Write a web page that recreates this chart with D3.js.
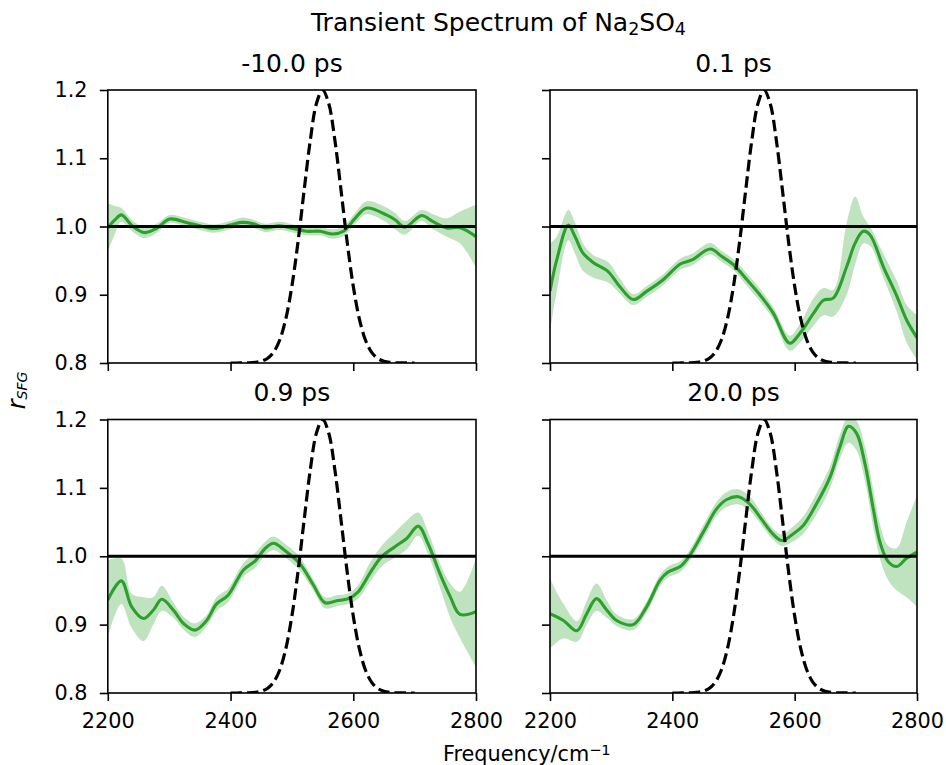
<!DOCTYPE html>
<html><head><meta charset="utf-8">
<script src="https://cdn.jsdelivr.net/npm/d3@7"></script>
<style>body{margin:0;background:#fff}</style>
</head><body><svg id="c" width="946" height="765" xmlns="http://www.w3.org/2000/svg"></svg>
<script>
// ---------- data ----------
const xTicks=[2200,2400,2600,2800];
const yTicks=[0.8,0.9,1.0,1.1,1.2];
const panelTitles=["-10.0 ps","0.1 ps","0.9 ps","20.0 ps"];
const refLevel=1.0;

// pump profile (dashed)
const pumpFreq=[2400,2410,2420,2430,2440,2450,2460,2470,2480,2490,2500,2510,2520,2530,2540,2550,2560,2570,2580,2590,2600,2610,2620,2630,2640,2650,2660,2670,2680,2690,2700];
const pumpVal=[0.8000,0.8000,0.8002,0.8003,0.8009,0.8025,0.8066,0.8156,0.8333,0.8644,0.9126,0.9777,1.0534,1.1266,1.1802,1.2000,1.1802,1.1266,1.0534,0.9777,0.9126,0.8644,0.8333,0.8156,0.8066,0.8025,0.8009,0.8003,0.8002,0.8000,0.8000];

// -10.0 ps
const freqA=[2200,2212,2222,2241,2260,2279,2301,2328,2350,2374,2399,2418,2437,2456,2480,2502,2524,2546,2567,2584,2603,2622,2654,2668,2684,2711,2730,2752,2774,2800];
const meanA=[0.998,1.010,1.017,1.000,0.991,0.997,1.011,1.006,1.001,0.997,1.002,1.006,1.004,0.998,1.001,0.997,0.993,0.993,0.989,0.993,1.012,1.027,1.017,1.010,0.999,1.016,1.007,0.998,0.998,0.985];
const loA=[0.962,0.990,1.007,0.992,0.983,0.990,1.005,1.000,0.995,0.991,0.996,1.000,0.998,0.992,0.995,0.991,0.987,0.987,0.982,0.986,1.004,1.018,1.006,0.996,0.988,1.008,0.996,0.985,0.975,0.940];
const hiA=[1.034,1.030,1.027,1.008,0.999,1.004,1.017,1.012,1.007,1.003,1.008,1.013,1.010,1.004,1.007,1.003,0.999,0.999,0.996,1.000,1.020,1.037,1.028,1.020,1.008,1.024,1.018,1.012,1.022,1.032];

// 0.1 ps
const freqB=[2200,2211,2230,2241,2254,2271,2295,2314,2336,2358,2385,2413,2432,2462,2481,2500,2522,2543,2565,2592,2609,2631,2647,2663,2685,2699,2712,2723,2745,2767,2783,2800];
const meanB=[0.905,0.951,1.002,0.985,0.961,0.947,0.934,0.912,0.893,0.905,0.922,0.945,0.951,0.967,0.956,0.944,0.922,0.900,0.873,0.829,0.844,0.873,0.892,0.895,0.941,0.976,0.993,0.988,0.941,0.898,0.863,0.837];
const loB=[0.845,0.905,0.980,0.960,0.935,0.925,0.918,0.902,0.885,0.897,0.914,0.937,0.943,0.959,0.948,0.936,0.913,0.891,0.864,0.818,0.830,0.855,0.870,0.868,0.900,0.945,0.975,0.972,0.925,0.875,0.830,0.805];
const hiB=[0.975,0.985,1.024,1.005,0.975,0.958,0.948,0.924,0.901,0.913,0.930,0.953,0.960,0.976,0.964,0.952,0.931,0.909,0.882,0.840,0.858,0.895,0.910,0.907,1.005,1.044,1.015,1.000,0.960,0.920,0.885,0.870];

// 0.9 ps
const freqC=[2200,2222,2239,2258,2274,2288,2307,2323,2342,2361,2377,2396,2421,2440,2456,2470,2489,2513,2535,2554,2573,2592,2608,2627,2646,2668,2687,2706,2722,2741,2758,2774,2800];
const meanC=[0.936,0.964,0.926,0.909,0.921,0.937,0.921,0.902,0.892,0.906,0.930,0.943,0.980,0.993,1.011,1.019,1.008,0.989,0.958,0.932,0.935,0.938,0.948,0.975,0.999,1.014,1.026,1.044,1.018,0.975,0.941,0.915,0.919];
const loC=[0.882,0.930,0.895,0.876,0.900,0.920,0.910,0.893,0.882,0.898,0.920,0.933,0.970,0.983,1.001,1.009,0.998,0.979,0.950,0.924,0.927,0.930,0.938,0.962,0.985,0.998,1.010,1.030,1.003,0.955,0.910,0.880,0.838];
const hiC=[0.994,0.997,0.945,0.940,0.940,0.957,0.932,0.912,0.902,0.914,0.940,0.953,0.990,1.005,1.021,1.029,1.018,0.999,0.966,0.940,0.943,0.946,0.958,0.990,1.015,1.035,1.052,1.064,1.035,0.990,0.960,0.948,0.997];

// 20.0 ps
const freqD=[2200,2222,2244,2260,2276,2293,2309,2336,2358,2380,2393,2413,2429,2451,2473,2489,2508,2527,2546,2565,2579,2598,2614,2636,2658,2674,2688,2701,2715,2729,2740,2753,2767,2783,2800];
const meanD=[0.916,0.906,0.891,0.916,0.938,0.921,0.906,0.900,0.926,0.965,0.977,0.985,1.002,1.036,1.070,1.083,1.087,1.076,1.054,1.032,1.023,1.033,1.045,1.077,1.116,1.160,1.190,1.180,1.135,1.067,1.019,0.992,0.985,0.997,1.006];
const loD=[0.865,0.880,0.875,0.900,0.920,0.910,0.898,0.892,0.918,0.957,0.969,0.977,0.994,1.026,1.060,1.072,1.076,1.066,1.045,1.024,1.015,1.022,1.033,1.062,1.100,1.143,1.166,1.155,1.110,1.040,0.995,0.965,0.950,0.940,0.926];
const hiD=[0.967,0.930,0.905,0.935,0.960,0.935,0.915,0.908,0.934,0.973,0.985,0.993,1.010,1.046,1.080,1.094,1.098,1.087,1.063,1.040,1.032,1.044,1.058,1.092,1.132,1.178,1.205,1.198,1.160,1.095,1.045,1.015,1.012,1.050,1.089];

// ---------- drawing ----------
const FONT='"DejaVu Sans", sans-serif';
const svg=d3.select("#c");
const defs=svg.append("defs");
const panels=[
  {t:panelTitles[0],f:freqA,m:meanA,lo:loA,hi:hiA,x0:107.8,x1:476,y0:90,y1:363,xl:false,yl:true},
  {t:panelTitles[1],f:freqB,m:meanB,lo:loB,hi:hiB,x0:550,x1:917,y0:90,y1:363,xl:false,yl:false},
  {t:panelTitles[2],f:freqC,m:meanC,lo:loC,hi:hiC,x0:107.8,x1:476,y0:419.5,y1:693,xl:true,yl:true},
  {t:panelTitles[3],f:freqD,m:meanD,lo:loD,hi:hiD,x0:550,x1:917,y0:419.5,y1:693,xl:true,yl:false}
];
const curve=d3.curveCatmullRom.alpha(0.5);
panels.forEach((p,k)=>{
  const x=d3.scaleLinear().domain([2200,2800]).range([p.x0,p.x1]);
  const y=d3.scaleLinear().domain([0.8,1.2]).range([p.y1,p.y0]);
  const id="clip"+k;
  defs.append("clipPath").attr("id",id).append("rect")
    .attr("x",p.x0).attr("y",p.y0).attr("width",p.x1-p.x0).attr("height",p.y1-p.y0);
  const g=svg.append("g");
  const plot=g.append("g").attr("clip-path",`url(#${id})`);
  const idx=d3.range(p.f.length);
  plot.append("path")
    .attr("d",d3.area().x(i=>x(p.f[i])).y0(i=>y(p.lo[i])).y1(i=>y(p.hi[i])).curve(curve)(idx))
    .attr("fill","#2ca02c").attr("fill-opacity",0.3).attr("stroke","none");
  plot.append("path")
    .attr("d",d3.line().x(i=>x(p.f[i])).y(i=>y(p.m[i])).curve(curve)(idx))
    .attr("fill","none").attr("stroke","#2ca02c").attr("stroke-width",3.1).attr("stroke-linejoin","round");
  plot.append("line")
    .attr("x1",x.range()[0]).attr("x2",x.range()[1]).attr("y1",y(refLevel)).attr("y2",y(refLevel))
    .attr("stroke","#000").attr("stroke-width",3.1);
  const pi=d3.range(pumpFreq.length);
  plot.append("path")
    .attr("d",d3.line().x(i=>x(pumpFreq[i])).y(i=>y(pumpVal[i])).curve(curve)(pi))
    .attr("fill","none").attr("stroke","#000").attr("stroke-width",3.2).attr("stroke-dasharray","11.5,5");

  // axes
  const xa=g.append("g").attr("transform",`translate(0,${p.y1})`)
    .call(d3.axisBottom(x).tickValues(xTicks).tickSize(8).tickSizeOuter(0).tickPadding(12.5)
      .tickFormat(p.xl?d3.format("d"):()=>""));
  const ya=g.append("g").attr("transform",`translate(${p.x0},0)`)
    .call(d3.axisLeft(y).tickValues(yTicks).tickSize(8).tickSizeOuter(0).tickPadding(12.3)
      .tickFormat(p.yl?d3.format(".1f"):()=>""));
  [xa,ya].forEach(a=>{
    a.select(".domain").remove();
    a.attr("font-family",null).attr("font-size",null);
    a.selectAll("line").attr("stroke","#000").attr("stroke-width",1.6);
    a.selectAll("text").attr("fill","#000").style("font-family",FONT).style("font-size","20.8px");
  });
  g.append("rect").attr("x",p.x0).attr("y",p.y0).attr("width",p.x1-p.x0).attr("height",p.y1-p.y0)
    .attr("fill","none").attr("stroke","#000").attr("stroke-width",1.6);
  g.append("text").attr("x",(p.x0+p.x1)/2).attr("y",p.y0-18.3).attr("text-anchor","middle")
    .style("font-family",FONT).style("font-size","25px").attr("fill","#000").text(p.t);
});

// suptitle
const st=svg.append("text").attr("x",498.5).attr("y",31).attr("text-anchor","middle")
  .style("font-family",FONT).style("font-size","25px").attr("fill","#000");
st.append("tspan").text("Transient Spectrum of Na");
st.append("tspan").attr("dy",4).style("font-size","17.5px").text("2");
st.append("tspan").attr("dy",-4).text("SO");
st.append("tspan").attr("dy",4).style("font-size","17.5px").text("4");

// x label
const xl=svg.append("text").attr("x",443).attr("y",761)
  .style("font-family",FONT).style("font-size","20.8px").attr("fill","#000");
xl.append("tspan").text("Frequency/cm");
xl.append("tspan").attr("dy",-6).style("font-size","14.6px").text("\u22121");

// y label
const yl=svg.append("text").attr("transform","translate(25,390.5) rotate(-90)").attr("text-anchor","middle")
  .style("font-family",FONT).style("font-style","italic").style("font-size","24px").attr("fill","#000");
yl.append("tspan").text("r");
yl.append("tspan").attr("dy",2).style("font-size","14px").text("SFG");
</script>
</body></html>
